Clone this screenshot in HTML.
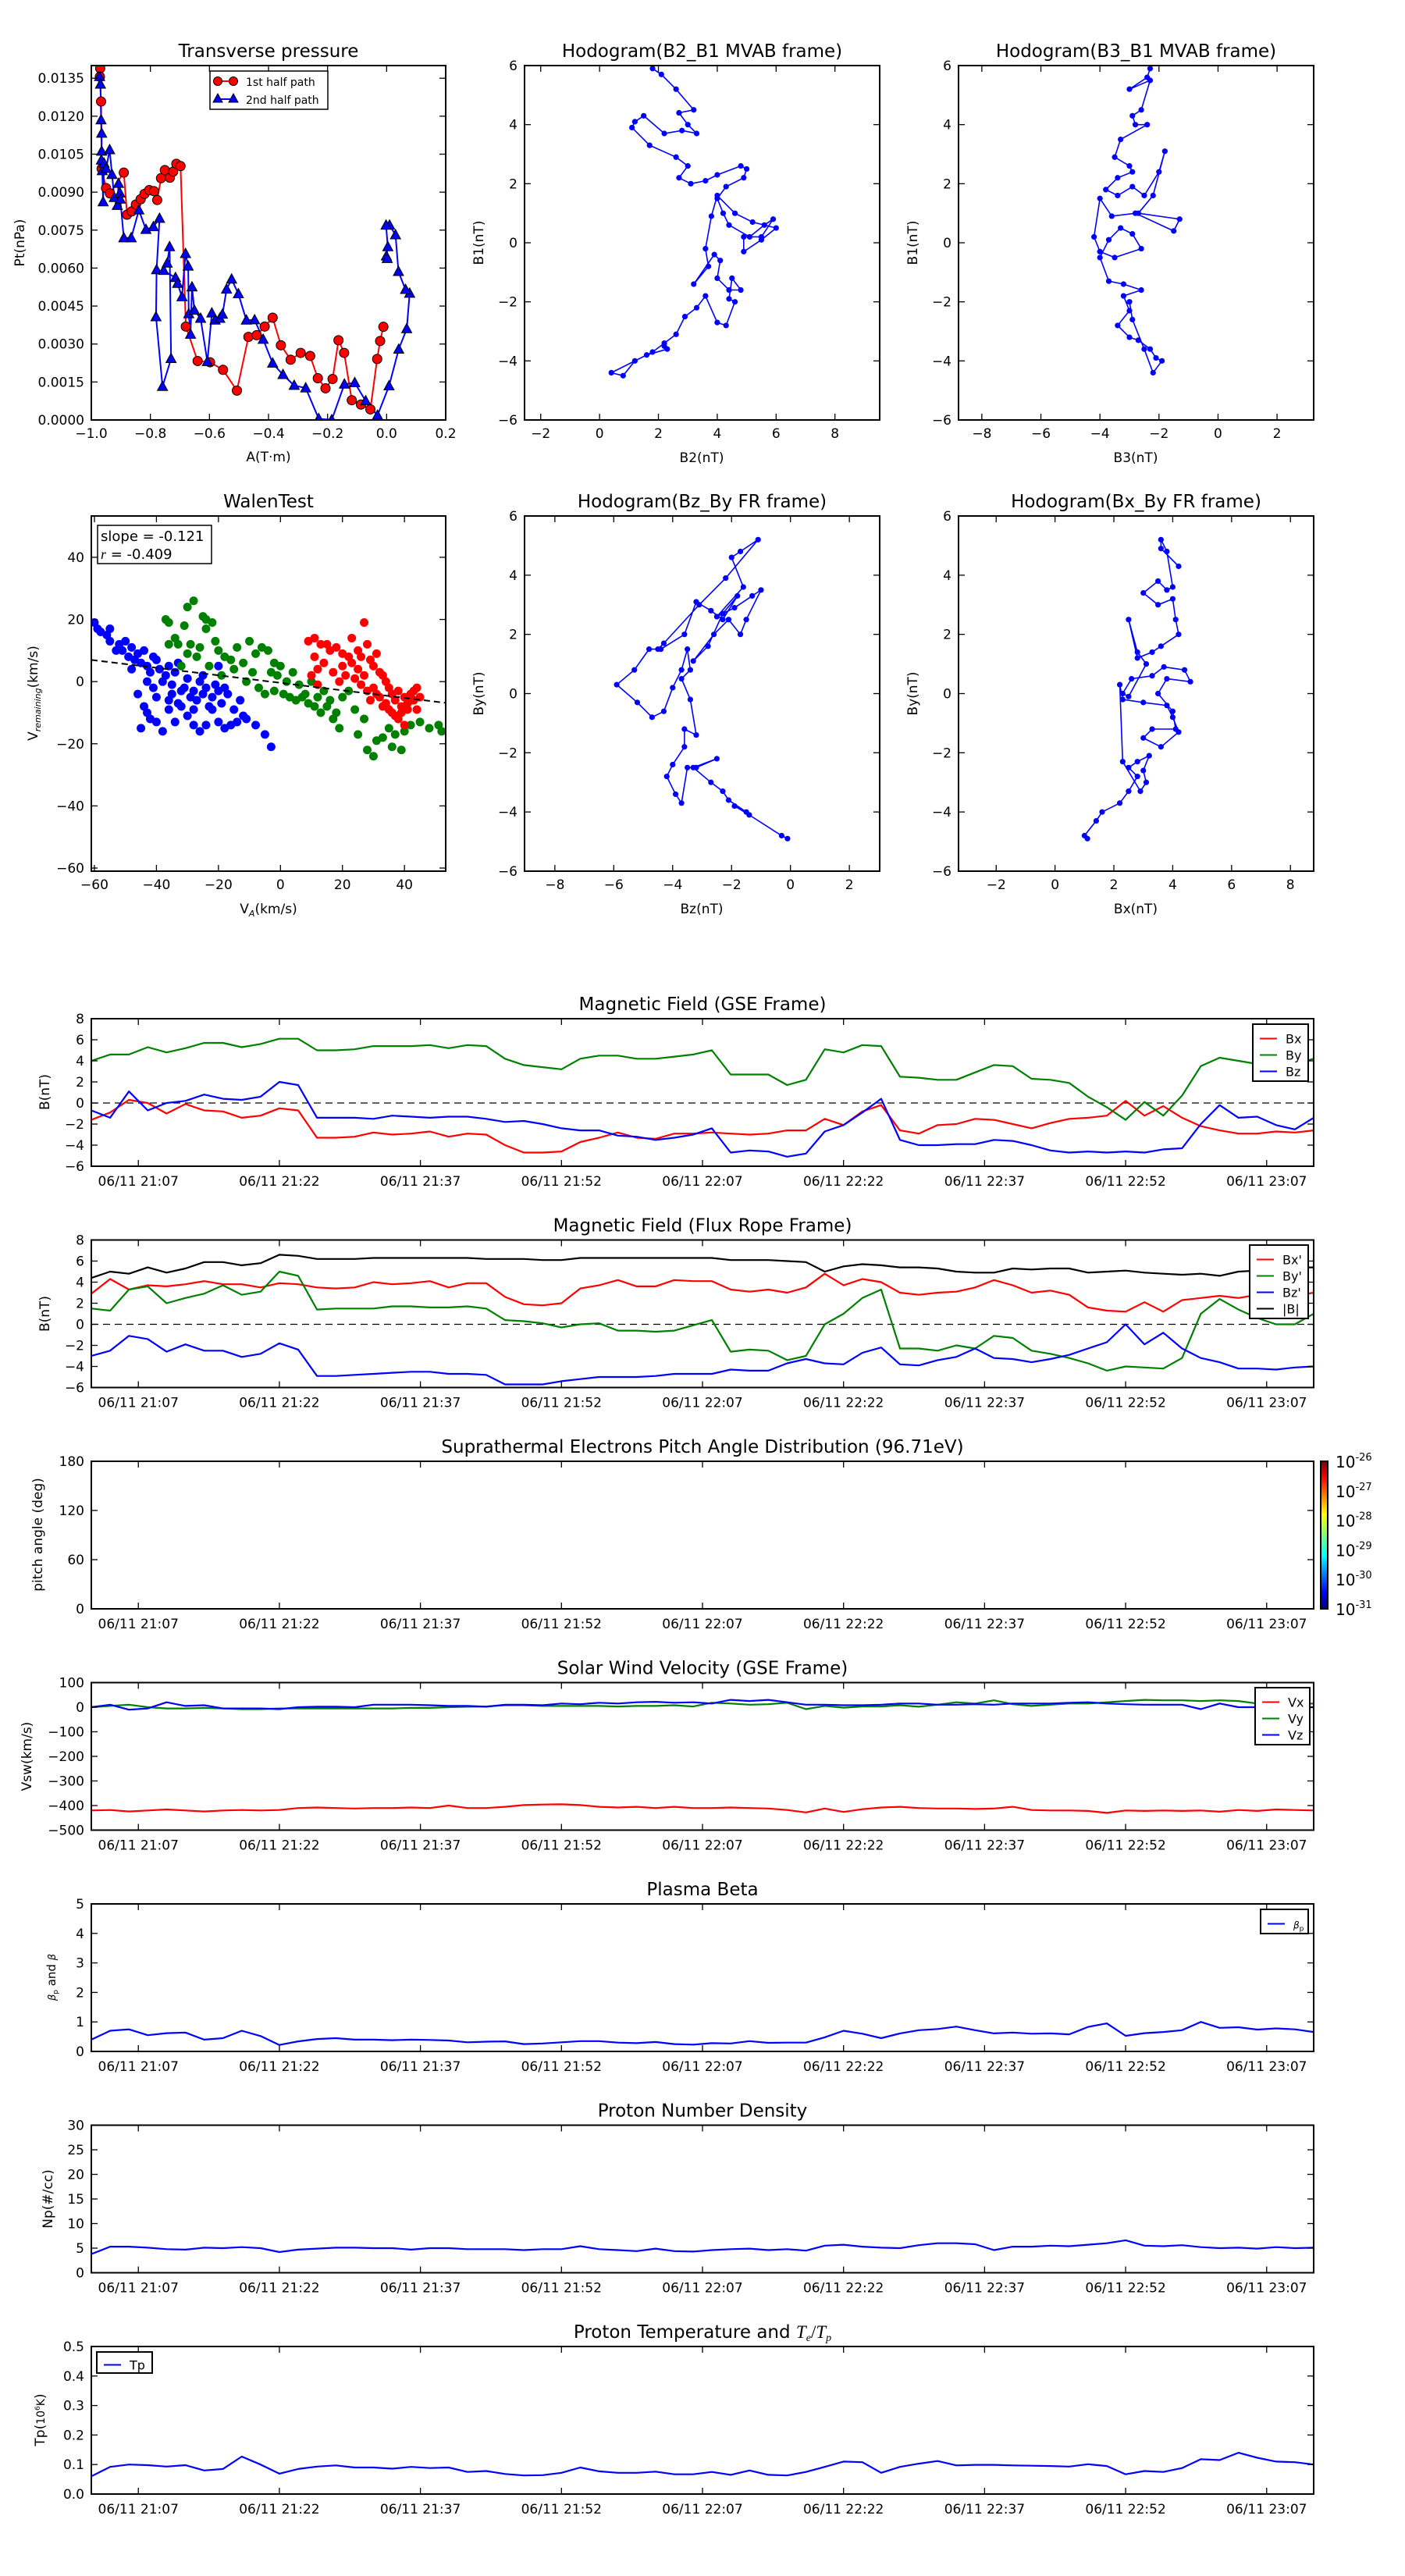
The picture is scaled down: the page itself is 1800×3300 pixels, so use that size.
<!DOCTYPE html>
<html><head><meta charset="utf-8">
<style>
body{margin:0;background:#fff}
svg{display:block;font-family:"DejaVu Sans","Liberation Sans",sans-serif}
</style></head>
<body>
<svg id="fig" width="1800" height="3300" viewBox="0 0 1800 3300"></svg>
<script>
// ---------- Transverse pressure ----------
const ptRedA=[-0.970,-0.971,-0.967,-0.965,-0.950,-0.937,-0.890,-0.879,-0.863,-0.849,-0.833,-0.820,-0.804,-0.788,-0.777,-0.764,-0.751,-0.734,-0.723,-0.712,-0.698,-0.680,-0.640,-0.598,-0.554,-0.507,-0.468,-0.440,-0.413,-0.386,-0.358,-0.325,-0.291,-0.259,-0.233,-0.207,-0.183,-0.163,-0.144,-0.118,-0.087,-0.055,-0.032,-0.022,-0.011];
const ptRedP=[0.01389,0.01356,0.01258,0.00993,0.00916,0.00895,0.00977,0.00811,0.00824,0.00851,0.00872,0.00893,0.00908,0.00904,0.00869,0.00955,0.00987,0.00957,0.00981,0.01012,0.01003,0.00369,0.00233,0.00228,0.00198,0.00116,0.00328,0.00335,0.00369,0.00404,0.00295,0.00238,0.00265,0.00253,0.00165,0.00125,0.00162,0.00315,0.00265,0.00078,0.00061,0.00042,0.00241,0.00312,0.00368];
const ptBlueA=[-0.972,-0.969,-0.967,-0.965,-0.965,-0.966,-0.963,-0.960,-0.957,-0.950,-0.938,-0.930,-0.922,-0.912,-0.908,-0.903,-0.902,-0.890,-0.865,-0.839,-0.815,-0.790,-0.769,-0.779,-0.781,-0.759,-0.730,-0.735,-0.743,-0.755,-0.715,-0.708,-0.693,-0.681,-0.672,-0.670,-0.664,-0.659,-0.651,-0.630,-0.607,-0.592,-0.581,-0.565,-0.556,-0.542,-0.525,-0.502,-0.475,-0.447,-0.418,-0.386,-0.351,-0.313,-0.274,-0.230,-0.186,-0.143,-0.108,-0.071,-0.031,0.008,0.041,0.068,0.078,0.064,0.040,0.030,0.010,-0.002,0.004,-0.001,0.002];
const ptBlueP=[0.01356,0.01326,0.01185,0.01132,0.01061,0.01026,0.00984,0.00861,0.01014,0.00993,0.01067,0.00969,0.00878,0.00847,0.00934,0.00896,0.00872,0.00719,0.00719,0.00829,0.00752,0.00763,0.00796,0.00593,0.00407,0.00132,0.00242,0.00684,0.00619,0.00590,0.00562,0.00539,0.00486,0.00657,0.00607,0.00419,0.00338,0.00525,0.00433,0.00401,0.00230,0.00422,0.00394,0.00401,0.00417,0.00516,0.00556,0.00498,0.00394,0.00395,0.00318,0.00224,0.00179,0.00136,0.00126,0.00005,0.0,0.00141,0.00147,0.00075,0.00018,0.00134,0.00279,0.00360,0.00500,0.00515,0.00586,0.00731,0.00769,0.00769,0.00684,0.00647,0.00637];
// ---------- Hodograms ----------
const h1x=[1.8,2.1,2.6,3.2,2.7,3.0,3.3,2.8,2.2,1.5,1.2,1.1,1.7,2.6,3.0,2.7,3.1,3.6,4.0,4.8,5.0,4.9,4.3,4.0,4.2,4.4,5.1,5.6,5.9,5.5,4.9,4.9,5.5,6.0,5.2,4.6,4.0,3.8,3.6,3.7,3.2,3.9,4.1,4.0,4.4,4.8,4.5,4.4,4.6,4.3,4.0,3.6,3.3,2.9,2.6,2.2,1.8,1.2,0.8,0.4,1.6,2.3,2.2];
const h1y=[5.9,5.7,5.2,4.5,4.4,4.0,3.7,3.8,3.7,4.3,4.1,3.9,3.3,2.9,2.6,2.2,2.0,2.1,2.3,2.6,2.5,2.2,1.9,1.5,1.0,0.6,0.2,0.6,0.8,0.2,0.2,-0.3,0.1,0.5,0.7,1.0,1.6,0.9,-0.2,-0.8,-1.4,-0.4,-0.6,-1.2,-1.6,-1.6,-1.2,-1.9,-2.0,-2.8,-2.7,-1.8,-2.2,-2.5,-3.1,-3.4,-3.7,-4.0,-4.5,-4.4,-3.8,-3.6,-3.5];
const h2x=[-2.3,-2.4,-3.0,-2.3,-2.6,-2.9,-2.8,-2.4,-3.3,-3.5,-3.0,-2.9,-3.4,-3.8,-3.4,-2.9,-2.5,-2.0,-1.8,-2.2,-2.7,-1.3,-1.5,-2.8,-3.6,-4.0,-4.2,-4.0,-3.5,-2.6,-2.9,-3.3,-3.7,-4.0,-3.7,-3.2,-2.6,-3.2,-3.0,-3.4,-3.0,-2.7,-2.3,-2.1,-1.9,-2.2,-2.5,-2.9,-3.0];
const h2y=[5.9,5.6,5.2,5.5,4.5,4.3,4.0,4.0,3.5,2.9,2.6,2.4,2.2,1.8,1.6,1.9,1.6,2.4,3.1,1.6,1.0,0.8,0.4,1.0,0.9,1.5,0.2,-0.3,-0.5,-0.2,0.3,0.5,0.1,-0.5,-1.3,-1.4,-1.6,-1.8,-2.3,-2.8,-3.2,-3.3,-3.6,-3.9,-4.0,-4.4,-3.6,-2.6,-2.0];
const h3x=[-0.1,-0.3,-1.4,-1.9,-1.5,-2.1,-2.3,-2.7,-3.3,-2.5,-3.2,-3.5,-3.7,-3.9,-4.2,-4.0,-3.6,-3.6,-3.2,-3.4,-3.7,-3.4,-3.5,-3.7,-4.0,-4.3,-4.7,-5.2,-5.9,-5.3,-4.8,-4.4,-3.6,-3.2,-2.7,-2.3,-1.8,-2.3,-2.8,-3.3,-2.6,-2.1,-1.7,-1.5,-1.0,-1.3,-1.9,-2.5,-1.6,-2.0,-1.7,-1.1,-2.2,-3.1,-4.3,-4.5];
const h3y=[-4.9,-4.8,-4.1,-3.8,-4.0,-3.6,-3.3,-3.0,-2.5,-2.2,-2.5,-2.5,-3.7,-3.4,-2.8,-2.4,-1.8,-1.2,-1.4,-0.2,0.5,0.8,1.5,0.8,0.2,-0.6,-0.8,-0.3,0.3,0.8,1.5,1.5,2.0,3.1,2.8,2.5,3.3,2.7,1.6,1.1,2.0,2.5,2.0,2.5,3.5,3.3,2.9,2.6,3.6,4.6,4.8,5.2,3.9,3.0,1.7,1.5];
const h4x=[1.1,1.0,1.4,1.6,2.2,2.5,2.8,2.5,2.8,3.2,3.0,3.1,2.9,2.3,2.2,2.3,3.0,3.8,4.0,4.2,3.6,3.0,3.3,4.1,4.0,3.5,3.8,4.6,4.4,3.7,3.3,2.6,2.3,2.5,3.1,2.8,2.5,2.8,3.3,3.6,4.2,4.1,4.0,3.5,3.0,3.5,3.8,4.0,3.8,3.6,3.6,4.2];
const h4y=[-4.9,-4.8,-4.3,-4.0,-3.7,-3.3,-2.8,-2.5,-2.3,-2.1,-2.6,-3.0,-3.3,-2.3,0.3,-0.2,-0.3,-0.4,-0.8,-1.3,-1.8,-1.5,-1.2,-1.2,-0.6,0.0,0.5,0.4,0.8,0.9,0.6,0.5,0.0,-0.1,1.0,1.4,2.5,1.2,1.4,1.6,2.0,2.5,3.2,3.0,3.4,3.8,3.5,3.6,4.8,5.2,4.9,4.3];
// ---------- Walen test ----------
const wBlueX=[-60,-59,-58,-56,-55,-52,-51,-50,-49,-48,-47,-46,-45,-44,-43,-42,-41,-40,-39,-38,-37,-36,-35,-34,-33,-32,-31,-30,-29,-28,-27,-26,-25,-24,-23,-22,-21,-20,-19,-17,-15,-13,-11,-8,-5,-3,-45,-43,-42,-40,-38,-36,-34,-30,-28,-26,-24,-20,-18,-16,-14,-12,-40,-44,-46,-36,-32,-28,-22,-25,-20,-18,-55,-53,-48,-43,-41,-35,-33];
const wBlueY=[19,17,16,15,17,12,10,13,8,11,7,9,6,10,5,3,8,7,4,0,2,5,-1,3,6,-3,-2,1,-5,-3,-6,0,-4,-2,-8,-5,-1,-3,-7,-4,-9,-6,-12,-14,-17,-21,-15,-10,-12,-13,-16,-9,-13,-11,-14,-16,-14,-13,-15,-14,-13,-11,-5,-8,-4,-6,-8,-9,-9,2,5,-2,13,10,4,0,-2,-4,-7];
const wGreenX=[-37,-36,-30,-28,-31,-34,-33,-36,-25,-24,-22,-24,-21,-20,-18,-16,-14,-12,-10,-8,-6,-4,-2,0,-3,-1,2,4,6,8,10,12,14,15,16,17,18,19,20,22,24,25,27,28,30,31,33,35,36,37,39,40,42,45,48,51,52,-27,-23,-19,-15,-11,-7,-5,-2,1,3,5,7,9,11,13,-30,-26,-29,-32,-9];
const wGreenY=[20,19,24,26,18,14,12,12,21,20,19,17,13,10,8,7,11,6,13,9,11,10,6,5,3,2,0,3,-1,-4,0,-5,-3,-8,-6,-12,-10,-15,-5,-3,-9,-17,-12,-22,-24,-19,-18,-15,-21,-17,-22,-16,-14,-13,-15,-14,-16,8,5,2,4,0,-2,-4,-3,-4,-5,-6,-5,-7,-8,-10,9,11,12,5,3];
const wRedX=[9,11,13,15,16,18,20,22,23,25,26,27,28,29,30,31,32,33,34,35,36,37,38,39,40,41,42,43,44,45,10,12,14,17,19,21,24,26,28,30,32,34,36,38,40,33,35,37,39,41,43,44,29,31,27,25,12,11,20,23];
const wRedY=[13,14,12,12,10,11,9,8,6,10,8,19,12,7,5,9,3,2,0,-2,-4,-6,-3,-8,-5,-7,-4,-6,-9,-5,2,4,6,3,0,2,1,-1,-3,-2,-5,-7,-10,-12,-14,-8,-9,-11,-10,-9,-3,-2,-6,-4,2,4,-1,8,5,14];
const walenSlope=-0.121, walenIntercept=-0.4;
// ---------- Time series (t in minutes from 21:02, 2-min step) ----------
const timeTicks=[5,20,35,50,65,80,95,110,125];
const timeLabels=['06/11 21:07','06/11 21:22','06/11 21:37','06/11 21:52','06/11 22:07','06/11 22:22','06/11 22:37','06/11 22:52','06/11 23:07'];
const gseBx=[-1.6,-0.9,0.3,0.0,-1.0,-0.1,-0.7,-0.8,-1.4,-1.2,-0.5,-0.7,-3.3,-3.3,-3.2,-2.8,-3.0,-2.9,-2.7,-3.2,-2.9,-3.0,-4.0,-4.7,-4.7,-4.6,-3.7,-3.3,-2.8,-3.3,-3.4,-2.9,-2.9,-2.8,-2.9,-3.0,-2.9,-2.6,-2.6,-1.5,-2.1,-0.8,-0.2,-2.6,-2.9,-2.1,-2.0,-1.5,-1.6,-2.0,-2.4,-1.9,-1.5,-1.4,-1.2,0.2,-1.2,-0.3,-1.4,-2.2,-2.6,-2.9,-2.9,-2.7,-2.8,-2.6];
const gseBy=[4.0,4.6,4.6,5.3,4.8,5.2,5.7,5.7,5.3,5.6,6.1,6.1,5.0,5.0,5.1,5.4,5.4,5.4,5.5,5.2,5.5,5.4,4.2,3.6,3.4,3.2,4.2,4.5,4.5,4.2,4.2,4.4,4.6,5.0,2.7,2.7,2.7,1.7,2.2,5.1,4.8,5.5,5.4,2.5,2.4,2.2,2.2,2.9,3.6,3.5,2.3,2.2,1.9,0.6,-0.4,-1.6,0.1,-1.2,0.7,3.5,4.3,4.0,3.7,3.6,3.7,4.2];
const gseBz=[-0.7,-1.4,1.1,-0.7,0.0,0.2,0.8,0.4,0.3,0.6,2.0,1.7,-1.4,-1.4,-1.4,-1.5,-1.2,-1.3,-1.4,-1.3,-1.3,-1.5,-1.8,-1.7,-2.0,-2.4,-2.6,-2.6,-3.1,-3.2,-3.5,-3.3,-3.0,-2.4,-4.7,-4.5,-4.6,-5.1,-4.8,-2.7,-2.1,-0.9,0.4,-3.5,-4.0,-4.0,-3.9,-3.9,-3.5,-3.6,-4.0,-4.5,-4.7,-4.6,-4.7,-4.6,-4.7,-4.4,-4.3,-2.0,-0.2,-1.4,-1.3,-2.1,-2.5,-1.4];
const frBx=[2.9,4.3,3.3,3.7,3.6,3.8,4.1,3.8,3.8,3.5,3.9,3.8,3.5,3.4,3.5,4.0,3.8,3.9,4.1,3.5,3.9,3.9,2.6,1.9,1.8,2.0,3.4,3.7,4.2,3.6,3.6,4.2,4.1,4.1,3.3,3.1,3.3,3.0,3.5,4.8,3.7,4.3,4.0,3.0,2.8,3.0,3.1,3.5,4.2,3.7,3.0,3.2,2.8,1.6,1.3,1.2,2.1,1.2,2.3,2.5,2.7,2.5,2.8,2.5,2.7,3.0];
const frBy=[1.5,1.3,3.3,3.6,2.0,2.5,2.9,3.7,2.8,3.1,5.0,4.6,1.4,1.5,1.5,1.5,1.7,1.7,1.6,1.6,1.7,1.5,0.4,0.3,0.1,-0.3,0.0,0.1,-0.6,-0.6,-0.7,-0.6,-0.1,0.4,-2.6,-2.4,-2.5,-3.4,-3.0,0.0,1.0,2.5,3.3,-2.3,-2.3,-2.5,-2.0,-2.3,-1.1,-1.3,-2.5,-2.8,-3.2,-3.7,-4.4,-4.0,-4.1,-4.2,-3.2,1.0,2.4,1.4,0.6,0.0,0.0,1.0];
const frBz=[-3.0,-2.5,-1.1,-1.4,-2.6,-1.9,-2.5,-2.5,-3.1,-2.8,-1.8,-2.4,-4.9,-4.9,-4.8,-4.7,-4.6,-4.5,-4.5,-4.7,-4.7,-4.8,-5.7,-5.7,-5.7,-5.4,-5.2,-5.0,-5.0,-5.0,-4.9,-4.7,-4.7,-4.7,-4.3,-4.4,-4.4,-3.7,-3.3,-3.7,-3.8,-2.7,-2.2,-3.8,-3.9,-3.4,-3.1,-2.3,-3.2,-3.3,-3.6,-3.3,-2.9,-2.3,-1.7,0.0,-1.9,-0.8,-2.3,-3.2,-3.6,-4.2,-4.2,-4.3,-4.1,-4.0];
const frBmag=[4.4,5.0,4.8,5.4,4.9,5.3,5.9,5.9,5.6,5.8,6.6,6.5,6.2,6.2,6.2,6.3,6.3,6.3,6.3,6.3,6.3,6.2,6.2,6.2,6.1,6.1,6.3,6.3,6.3,6.3,6.3,6.3,6.3,6.3,6.1,6.1,6.1,6.0,5.9,5.0,5.5,5.7,5.6,5.4,5.4,5.3,5.0,4.9,4.9,5.3,5.2,5.3,5.3,4.9,5.0,5.1,4.9,4.8,4.7,4.8,4.6,5.0,5.1,5.2,5.4,5.4];
const swVx=[-420,-418,-424,-420,-416,-420,-424,-420,-418,-420,-418,-410,-408,-410,-412,-410,-410,-408,-410,-400,-410,-410,-405,-398,-396,-395,-398,-405,-408,-405,-410,-405,-410,-410,-408,-410,-412,-418,-428,-412,-426,-415,-408,-405,-410,-412,-412,-414,-412,-405,-418,-420,-420,-422,-430,-420,-422,-420,-422,-420,-425,-418,-422,-416,-418,-420];
const swVy=[0,5,10,0,-5,-5,-3,-5,-8,-8,-5,-5,-5,-5,-5,-5,-5,-3,-3,0,2,3,8,8,5,5,5,5,3,5,5,8,3,18,15,10,12,18,-8,5,-2,3,3,8,2,10,20,15,28,12,5,10,15,15,20,25,30,28,28,25,28,25,15,25,12,15];
const swVz=[0,10,-10,-5,20,5,8,-5,-5,-5,-8,0,2,2,0,10,10,10,8,5,5,2,10,10,8,15,12,18,15,20,22,18,20,15,30,25,30,20,10,10,8,8,10,15,15,10,10,12,10,15,15,15,18,20,15,12,10,10,10,-8,15,0,0,-5,-3,0];
const betaP=[0.40,0.70,0.75,0.55,0.62,0.64,0.40,0.45,0.70,0.52,0.22,0.34,0.42,0.45,0.40,0.40,0.38,0.40,0.39,0.37,0.31,0.33,0.34,0.25,0.27,0.31,0.35,0.35,0.30,0.28,0.32,0.25,0.23,0.28,0.27,0.35,0.29,0.30,0.30,0.48,0.70,0.60,0.45,0.61,0.72,0.76,0.84,0.72,0.61,0.64,0.60,0.61,0.58,0.83,0.95,0.53,0.62,0.66,0.72,1.0,0.80,0.82,0.74,0.78,0.75,0.66];
const npVals=[3.8,5.3,5.3,5.1,4.8,4.7,5.1,5.0,5.2,5.0,4.2,4.7,4.9,5.1,5.1,5.0,5.0,4.7,5.0,5.0,4.8,4.8,4.8,4.6,4.8,4.8,5.4,4.8,4.6,4.4,4.9,4.4,4.3,4.6,4.8,4.9,4.6,4.8,4.5,5.5,5.7,5.3,5.1,5.0,5.6,6.0,6.0,5.8,4.6,5.3,5.3,5.5,5.4,5.7,6.0,6.6,5.5,5.4,5.6,5.2,5.0,5.1,4.9,5.2,5.0,5.1];
const tpVals=[0.06,0.092,0.10,0.098,0.093,0.098,0.08,0.085,0.127,0.10,0.069,0.085,0.093,0.097,0.09,0.09,0.086,0.092,0.088,0.09,0.075,0.078,0.068,0.063,0.064,0.072,0.09,0.077,0.072,0.072,0.076,0.067,0.067,0.075,0.065,0.08,0.065,0.063,0.075,0.092,0.11,0.108,0.072,0.092,0.103,0.112,0.097,0.099,0.099,0.097,0.096,0.095,0.093,0.101,0.095,0.067,0.078,0.075,0.088,0.118,0.115,0.14,0.123,0.11,0.108,0.10];
const timeStep=2;

const NS='http://www.w3.org/2000/svg';
const svg=document.getElementById('fig');
const TITLE_FS=23;
function mk(tag,attrs,parent){const e=document.createElementNS(NS,tag);for(const k in attrs)e.setAttribute(k,attrs[k]);(parent||svg).appendChild(e);return e;}
function txt(s,x,y,attrs,parent){const t=mk('text',Object.assign({x:x,y:y,'font-size':17,fill:'#000'},attrs||{}),parent);t.textContent=s;return t;}

function axes(name,c){
  const g=mk('g',{});
  
  
  const sx=v=>c.x0+(v-c.xmin)/(c.xmax-c.xmin)*c.w;
  const sy=v=>c.y0+c.h-(v-c.ymin)/(c.ymax-c.ymin)*c.h;
  const cp=mk('clipPath',{id:name+'-clip'},g);
  mk('rect',{x:c.x0,y:c.y0,width:c.w,height:c.h},cp);
  const plot=mk('g',{'clip-path':'url(#'+name+'-clip)'},g);
  
  
  const fr=mk('g',{},g);
  const fs=c.fs||17;
  c.xticks.forEach((v,i)=>{
    const x=sx(v);
    mk('line',{x1:x,x2:x,y1:c.y0+c.h,y2:c.y0+c.h-8,stroke:'#000','stroke-width':1.3},fr);
    mk('line',{x1:x,x2:x,y1:c.y0,y2:c.y0+8,stroke:'#000','stroke-width':1.3},fr);
    const t=txt(c.xlabels[i],x,c.y0+c.h+(c.xlabOff||23),{'text-anchor':'middle','font-size':fs},fr);
    
    
  });
  c.yticks.forEach((v,i)=>{
    const y=sy(v);
    mk('line',{x1:c.x0,x2:c.x0+8,y1:y,y2:y,stroke:'#000','stroke-width':1.3},fr);
    mk('line',{x1:c.x0+c.w,x2:c.x0+c.w-8,y1:y,y2:y,stroke:'#000','stroke-width':1.3},fr);
    const t=txt(c.ylabels[i],c.x0-9,y+6,{'text-anchor':'end','font-size':fs},fr);
    
    
  });
  const frame=mk('rect',{x:c.x0,y:c.y0,width:c.w,height:c.h,fill:'none',stroke:'#000','stroke-width':2},fr);
  
  
  if(c.title){const t=txt(c.title,c.x0+c.w/2,c.y0-11,{'text-anchor':'middle','font-size':TITLE_FS},g);
    
    }
  return {sx,sy,plot,g,c};
}
function pathD(xs,ys,sx,sy){let d='';const n=Math.min(xs.length,ys.length);for(let i=0;i<n;i++)d+=(i?'L':'M')+sx(xs[i]).toFixed(1)+','+sy(ys[i]).toFixed(1);return d;}
function ylab(s,x,y,parent,name,fs){const t=txt(s,x,y,{'text-anchor':'middle','font-size':fs||17,transform:'rotate(-90 '+x+' '+y+')'},parent);
  
  return t;}
function xlab(s,x,y,parent,name){const t=txt(s,x,y,{'text-anchor':'middle','font-size':17},parent);
  
  return t;}
function rng(a,b,s){const r=[];for(let v=a;v<=b+1e-9;v+=s)r.push(+v.toFixed(6));return r;}
function lbl(arr,d){return arr.map(v=>(v<0?'\u2212':'')+Math.abs(v).toFixed(d));}

// ---------- Panel 1: transverse pressure ----------
(function(){
  const xt=rng(-1,0.2,0.2), yt=rng(0,0.0135,0.0015);
  const A=axes('transverse-pressure',{x0:117,y0:84,w:454,h:454,xmin:-1,xmax:0.2,ymin:0,ymax:0.014,xticks:xt,xlabels:lbl(xt,1),yticks:yt,ylabels:lbl(yt,4),title:'Transverse pressure'});
  const r=mk('path',{d:pathD(ptRedA,ptRedP,A.sx,A.sy),fill:'none',stroke:'#f00','stroke-width':2},A.plot);
  
  
  const b=mk('path',{d:pathD(ptBlueA,ptBlueP,A.sx,A.sy),fill:'none',stroke:'#00f','stroke-width':2},A.plot);
  
  
  ptRedA.forEach((a,i)=>{const c=mk('circle',{cx:A.sx(a),cy:A.sy(ptRedP[i]),r:6,fill:'#f00',stroke:'#000','stroke-width':1},A.plot);
    
    });
  ptBlueA.forEach((a,i)=>{const x=A.sx(a),y=A.sy(ptBlueP[i]);
    const p=mk('polygon',{points:`${x},${y-7} ${x-6.5},${y+5} ${x+6.5},${y+5}`,fill:'#00f',stroke:'#000','stroke-width':1},A.plot);
    
    });
  const lg=mk('g',{},A.g);
  
  
  mk('rect',{x:269,y:91,width:151,height:49,fill:'#fff',stroke:'#000','stroke-width':1.5},lg);
  mk('line',{x1:279,x2:299,y1:104,y2:104,stroke:'#f00','stroke-width':2},lg);
  mk('circle',{cx:279,cy:104,r:5.5,fill:'#f00',stroke:'#000'},lg);mk('circle',{cx:299,cy:104,r:5.5,fill:'#f00',stroke:'#000'},lg);
  mk('line',{x1:279,x2:299,y1:127,y2:127,stroke:'#00f','stroke-width':2},lg);
  mk('polygon',{points:'279,120 273,131 285,131',fill:'#00f',stroke:'#000'},lg);mk('polygon',{points:'299,120 293,131 305,131',fill:'#00f',stroke:'#000'},lg);
  txt('1st half path',315,110,{'font-size':14},lg);txt('2nd half path',315,133,{'font-size':14},lg);
  xlab('A(T\u00b7m)',344,591,A.g,'x-axis-title');
  ylab('Pt(nPa)',31,311,A.g,'y-axis-title');
})();

// ---------- Hodogram helper ----------
function hodo(name,x0,y0,h,xmin,xmax,xt,xs,ys,title,xl,yl){
  const yt=rng(-6,6,2);
  const A=axes(name,{x0:x0,y0:y0,w:455,h:h,xmin:xmin,xmax:xmax,ymin:-6,ymax:6,xticks:xt,xlabels:lbl(xt,0),yticks:yt,ylabels:lbl(yt,0),title:title});
  const p=mk('path',{d:pathD(xs,ys,A.sx,A.sy),fill:'none',stroke:'#00f','stroke-width':1.6},A.plot);
  
  
  xs.forEach((v,i)=>{const c=mk('circle',{cx:A.sx(v),cy:A.sy(ys[i]),r:3.6,fill:'#00f'},A.plot);
    
    });
  xlab(xl,x0+227,y0+h+54,A.g,'x-axis-title');
  ylab(yl,x0-53,y0+h/2,A.g,'y-axis-title');
}
hodo('hodogram-b2-b1',672,84,454,-2.55,9.52,rng(-2,8,2),h1x,h1y,'Hodogram(B2_B1 MVAB frame)','B2(nT)','B1(nT)');
hodo('hodogram-b3-b1',1228,84,454,-8.79,3.24,rng(-8,2,2),h2x,h2y,'Hodogram(B3_B1 MVAB frame)','B3(nT)','B1(nT)');
hodo('hodogram-bz-by',672,661,455,-9.03,3.03,rng(-8,2,2),h3x,h3y,'Hodogram(Bz_By FR frame)','Bz(nT)','By(nT)');
hodo('hodogram-bx-by',1228,661,455,-3.28,8.79,rng(-2,8,2),h4x,h4y,'Hodogram(Bx_By FR frame)','Bx(nT)','By(nT)');

// ---------- Walen test ----------
(function(){
  const t=rng(-60,40,20);
  const A=axes('walen-test',{x0:117,y0:661,w:454,h:455,xmin:-61,xmax:53.3,ymin:-61,ymax:53.3,xticks:t,xlabels:lbl(t,0),yticks:t,ylabels:lbl(t,0),title:'WalenTest'});
  [[wBlueX,wBlueY,'#00f','walen-point-blue'],[wGreenX,wGreenY,'#008000','walen-point-green'],[wRedX,wRedY,'#f00','walen-point-red']].forEach(s=>{
    s[0].forEach((v,i)=>{const c=mk('circle',{cx:A.sx(v),cy:A.sy(s[1][i]),r:5.5,fill:s[2]},A.plot);
      
      });
  });
  const l=mk('line',{x1:A.sx(-61),y1:A.sy(walenSlope*-61+walenIntercept),x2:A.sx(53.3),y2:A.sy(walenSlope*53.3+walenIntercept),stroke:'#000','stroke-width':2,'stroke-dasharray':'8,5'},A.plot);
  
  
  const lg=mk('g',{},A.g);
  
  
  mk('rect',{x:125,y:673,width:146,height:49,fill:'#fff',stroke:'#000','stroke-width':1.5},lg);
  txt('slope = -0.121',129,693,{'font-size':18},lg);
  const r=txt('',129,716,{'font-size':18},lg);
  r.innerHTML='<tspan font-style="italic" font-family="Liberation Serif, serif">r</tspan> = -0.409';
  const xl=xlab('',344,1170,A.g,'x-axis-title');
  xl.innerHTML='V<tspan font-size="11" dy="4" font-style="italic">A</tspan><tspan dy="-4">(km/s)</tspan>';
  const yl=ylab('',48,888,A.g,'y-axis-title');
  yl.innerHTML='V<tspan font-size="11" dy="4" font-style="italic">remaining</tspan><tspan dy="-4">(km/s)</tspan>';
})();

// ---------- Time series ----------
const tsX0=117,tsW=1566,tsH=189,tsTmax=130;
function tsAxes(name,y0,ymin,ymax,yt,ylabels,title){
  return axes(name,{x0:tsX0,y0:y0,w:tsW,h:tsH,xmin:0,xmax:tsTmax,ymin:ymin,ymax:ymax,xticks:timeTicks,xlabels:timeLabels,yticks:yt,ylabels:ylabels,title:title,xlabOff:25});
}
function series(A,vals,color,name){
  const ts=vals.map((v,i)=>i*timeStep);
  const p=mk('path',{d:pathD(ts,vals,A.sx,A.sy),fill:'none',stroke:color,'stroke-width':2.2,'stroke-linejoin':'round'},A.plot);
  
  
}
function zero(A){const l=mk('line',{x1:A.c.x0,x2:A.c.x0+A.c.w,y1:A.sy(0),y2:A.sy(0),stroke:'#000','stroke-width':1.3,'stroke-dasharray':'9,6'},A.plot);
  
  }
function legend(A,name,x,y,w,entries,rowH){
  const g=mk('g',{},A.g);
  
  
  mk('rect',{x:x,y:y,width:w,height:entries.length*rowH+10,fill:'#fff',stroke:'#000','stroke-width':2},g);
  entries.forEach((e,i)=>{const cy=y+8+rowH*i+rowH/2;
    mk('line',{x1:x+9,x2:x+31,y1:cy,y2:cy,stroke:e[1],'stroke-width':2},g);
    const t=txt('',x+42,cy+6,{'font-size':16},g);t.innerHTML=e[0];});
}
const bt=rng(-6,8,2);
(function(){
  const A=tsAxes('magnetic-field-gse',1305,-6,8,bt,lbl(bt,0),'Magnetic Field (GSE Frame)');
  zero(A);
  series(A,gseBx,'#f00','bx-line');series(A,gseBy,'#008000','by-line');series(A,gseBz,'#00f','bz-line');
  legend(A,'gse-legend',1605,1312,71,[['Bx','#f00'],['By','#008000'],['Bz','#00f']],21);
  ylab('B(nT)',63,1399,A.g,'y-axis-title');
})();
(function(){
  const A=tsAxes('magnetic-field-fr',1588.5,-6,8,bt,lbl(bt,0),'Magnetic Field (Flux Rope Frame)');
  zero(A);
  series(A,frBx,'#f00','bx-prime-line');series(A,frBy,'#008000','by-prime-line');series(A,frBz,'#00f','bz-prime-line');series(A,frBmag,'#000','b-magnitude-line');
  legend(A,'fr-legend',1601,1595,75,[["Bx'",'#f00'],["By'",'#008000'],["Bz'",'#00f'],['|B|','#000']],21);
  ylab('B(nT)',63,1683,A.g,'y-axis-title');
})();
(function(){
  const yt=[0,60,120,180];
  const A=tsAxes('pitch-angle-distribution',1872,0,180,yt,yt.map(String),'Suprathermal Electrons Pitch Angle Distribution (96.71eV)');
  ylab('pitch angle (deg)',54,1966,A.g,'y-axis-title');
  const cb=mk('g',{},svg);
  
  
  const gr=mk('linearGradient',{id:'jet',x1:0,y1:1,x2:0,y2:0},cb);
  [['0','#00007f'],['0.11','#0000ff'],['0.36','#00ffff'],['0.5','#7dff7a'],['0.64','#ffff00'],['0.89','#ff0000'],['1','#7f0000']].forEach(s=>mk('stop',{offset:s[0],'stop-color':s[1]},gr));
  mk('rect',{x:1692,y:1872,width:9,height:189,fill:'url(#jet)',stroke:'#000','stroke-width':2},cb);
  const exps=['-26','-27','-28','-29','-30','-31'];
  exps.forEach((e,i)=>{const y=1872+i*189/5;const t=txt('',1711,y+8,{'font-size':20},cb);
    t.innerHTML='10<tspan font-size="13" dy="-9">'+e+'</tspan>';});
})();
(function(){
  const yt=rng(-500,100,100);
  const A=tsAxes('solar-wind-velocity',2155.5,-500,100,yt,lbl(yt,0),'Solar Wind Velocity (GSE Frame)');
  series(A,swVx,'#f00','vx-line');series(A,swVy,'#008000','vy-line');series(A,swVz,'#00f','vz-line');
  legend(A,'velocity-legend',1608,2162,70,[['Vx','#f00'],['Vy','#008000'],['Vz','#00f']],21);
  ylab('Vsw(km/s)',40,2250,A.g,'y-axis-title');
})();
(function(){
  const yt=rng(0,5,1);
  const A=tsAxes('plasma-beta',2439,0,5,yt,yt.map(String),'Plasma Beta');
  series(A,betaP,'#00f','beta-p-line');
  legend(A,'beta-legend',1615,2446,61,[['<tspan font-style="italic" font-size="12">\u03b2</tspan><tspan font-size="9" dy="3">p</tspan>','#00f']],21);
  const yl=ylab('',71,2533,A.g,'y-axis-title');
  yl.innerHTML='<tspan font-style="italic" font-size="13">\u03b2</tspan><tspan font-size="9" dy="3">p</tspan><tspan dy="-3" font-size="15"> and </tspan><tspan font-style="italic" font-size="13">\u03b2</tspan>';
})();
(function(){
  const yt=rng(0,30,5);
  const A=tsAxes('proton-number-density',2722.5,0,30,yt,yt.map(String),'Proton Number Density');
  series(A,npVals,'#00f','np-line');
  ylab('Np(#/cc)',67,2817,A.g,'y-axis-title');
})();
(function(){
  const yt=rng(0,0.5,0.1);
  const A=tsAxes('proton-temperature',3006,0,0.5,yt,lbl(yt,1),'');
  const t=txt('',900,2995,{'text-anchor':'middle','font-size':TITLE_FS},A.g);
  t.innerHTML='Proton Temperature and <tspan font-family="Liberation Serif, serif" font-style="italic">T</tspan><tspan font-family="Liberation Serif, serif" font-style="italic" font-size="14" dy="4">e</tspan><tspan font-family="Liberation Serif, serif" dy="-4">/</tspan><tspan font-family="Liberation Serif, serif" font-style="italic">T</tspan><tspan font-family="Liberation Serif, serif" font-style="italic" font-size="14" dy="4">p</tspan>';
  
  
  series(A,tpVals,'#00f','tp-line');
  legend(A,'tp-legend',124,3013,71,[['Tp','#00f']],17);
  const yl=ylab('',57,3100,A.g,'y-axis-title');
  yl.innerHTML='Tp(<tspan font-size="14">10<tspan font-size="9" dy="-6">6</tspan><tspan dy="6">K</tspan></tspan>)';
})();
</script>
</body></html>
